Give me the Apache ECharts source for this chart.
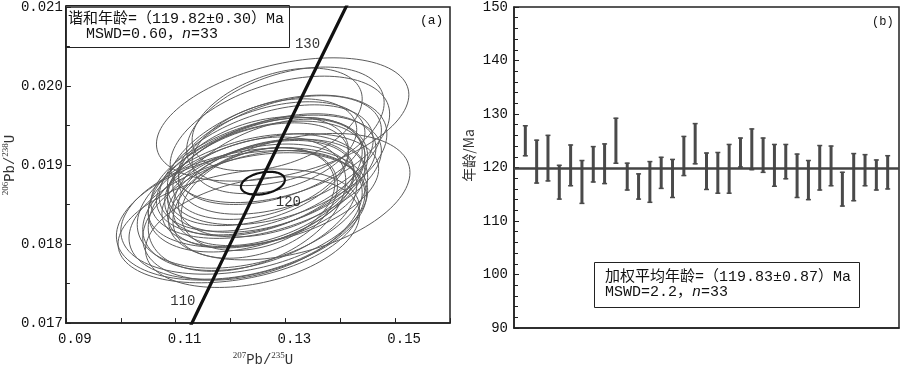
<!DOCTYPE html>
<html>
<head>
<meta charset="utf-8">
<script src="https://cdn.jsdelivr.net/npm/echarts@6/dist/echarts.min.js"></script>
<style>html,body{margin:0;padding:0;background:#fff;}#c{width:900px;height:372px;}</style>
</head>
<body>
<div id="c"></div>
<script>
// ---------- Panel (a): concordia diagram ----------
const concordiaAges = [108, 110, 115, 120, 125, 130, 135];
const concordiaX = [0.112226, 0.114419, 0.119921, 0.125449, 0.131004, 0.136588, 0.142199];
const concordiaY = [0.016894, 0.017210, 0.018000, 0.018789, 0.019580, 0.020371, 0.021163];
const concordiaLabelAges = [110, 120, 130];

// analysis ellipses: centre (207Pb/235U, 206Pb/238U), half-axes, error correlation
const ellipseCX  = [0.1295,0.1265,0.1285,0.1230,0.1260,0.1220,0.1250,0.1275,0.1285,0.1245,0.1215,0.1240,0.1255,0.1235,0.1290,0.1300,0.1260,0.1307,0.1250,0.1280,0.1290,0.1275,0.1265,0.1255,0.1240,0.1225,0.1270,0.1255,0.1240,0.1230,0.1265,0.1250,0.1260];
const ellipseCY  = [0.019577,0.018962,0.019065,0.018356,0.018852,0.018364,0.018884,0.018899,0.019577,0.018521,0.018230,0.018364,0.018631,0.018466,0.019128,0.019490,0.018679,0.018600,0.018750,0.019238,0.019325,0.019151,0.018852,0.018962,0.018545,0.018419,0.018781,0.018836,0.018151,0.018505,0.018710,0.018569,0.018647];
const ellipseSX  = [0.0230,0.0195,0.0200,0.0215,0.0180,0.0228,0.0165,0.0190,0.0155,0.0150,0.0220,0.0200,0.0170,0.0195,0.0185,0.0180,0.0210,0.0220,0.0200,0.0150,0.0200,0.0170,0.0210,0.0160,0.0210,0.0225,0.0175,0.0190,0.0195,0.0180,0.0160,0.0140,0.0185];
const ellipseSY  = [0.00078,0.00080,0.00082,0.00080,0.00075,0.00082,0.00065,0.00075,0.00065,0.00070,0.00072,0.00082,0.00068,0.00080,0.00075,0.00075,0.00072,0.00080,0.00085,0.00060,0.00080,0.00065,0.00078,0.00065,0.00085,0.00080,0.00080,0.00072,0.00070,0.00085,0.00062,0.00065,0.00068];
const ellipseRho = [0.40,0.45,0.40,0.35,0.42,0.32,0.40,0.42,0.40,0.32,0.32,0.35,0.38,0.35,0.42,0.40,0.38,0.38,0.42,0.35,0.40,0.40,0.42,0.35,0.35,0.32,0.42,0.40,0.32,0.35,0.35,0.30,0.38];
// concordia age ellipse
const meanEllipse = [0.1259, 0.01877, 0.0040, 0.000145, 0.3];

const xTickLabelsA = [0.09, 0.11, 0.13, 0.15];

// ---------- Panel (b): weighted mean ages ----------
const analysisNo = [1,2,3,4,5,6,7,8,9,10,11,12,13,14,15,16,17,18,19,20,21,22,23,24,25,26,27,28,29,30,31,32,33];
const ageHigh = [127.9,125.2,126.1,120.5,124.3,121.4,124.0,124.5,129.3,120.9,118.9,121.2,122.0,121.6,125.9,128.3,122.8,122.9,124.4,125.6,127.3,125.6,124.4,124.4,122.6,121.4,124.2,124.1,119.2,122.7,122.5,121.5,122.3];
const ageLow  = [122.1,117.0,117.4,114.0,116.5,113.2,117.2,116.9,120.7,115.7,114.0,113.4,116.0,114.3,118.4,120.6,115.8,115.1,115.1,120.0,119.5,119.0,116.4,117.8,114.3,113.9,115.7,116.5,112.7,113.7,116.5,115.7,115.9];
const weightedMean = 119.83;

const FONT = "'Liberation Mono', 'Noto Sans CJK SC', monospace";
const TXT = '#111';

function ellipseRender(color, width) {
  return function (params, api) {
    const cx = api.value(0), cy = api.value(1), sx = api.value(2), sy = api.value(3), r = api.value(4);
    const k = Math.sqrt(1 - r * r);
    const pts = [];
    for (let j = 0; j <= 120; j++) {
      const t = j / 120 * Math.PI * 2;
      pts.push(api.coord([cx + sx * Math.cos(t), cy + sy * (r * Math.cos(t) + k * Math.sin(t))]));
    }
    return { type: 'polyline', shape: { points: pts }, style: { fill: null, stroke: color, lineWidth: width } };
  };
}

const ellipseData = ellipseCX.map((c, i) => [c, ellipseCY[i], ellipseSX[i], ellipseSY[i], ellipseRho[i]]);
const concordiaData = concordiaX.map((x, i) => [x, concordiaY[i]]);
const labelOffsets = { 110: [-17, -5], 120: [28, 21], 130: [-14, -12] };
const concordiaLabelData = concordiaLabelAges.map(a => {
  const i = concordiaAges.indexOf(a);
  return { value: [concordiaX[i], concordiaY[i]], name: String(a), label: { offset: labelOffsets[a] } };
});
const barData = analysisNo.map((n, i) => [n, ageLow[i], ageHigh[i]]);

const richBox = {
  t: { fontFamily: FONT, fontSize: 15, lineHeight: 15, color: TXT, fontWeight: 'normal' },
  i: { fontFamily: FONT, fontSize: 15, lineHeight: 15, color: TXT, fontStyle: 'italic', fontWeight: 'normal' }
};

const chart = echarts.init(document.getElementById('c'), null, { renderer: 'canvas' });
const option = {
  backgroundColor: '#fff',
  animation: false,
  textStyle: { fontFamily: FONT, color: TXT },
  title: [
    {
      left: 65, top: 5,
      borderColor: '#222', borderWidth: 1, padding: [7, 6, 6, 3],
      text: '{t|谐和年龄=（119.82±0.30）Ma}\n{t|  MSWD=0.60，}{i|n}{t|=33}',
      textStyle: { fontWeight: 'normal', rich: richBox }
    },
    {
      left: 594, top: 262,
      borderColor: '#222', borderWidth: 1, padding: [8, 9, 8, 11],
      text: '{t|加权平均年龄=（119.83±0.87）Ma}\n{t|MSWD=2.2，}{i|n}{t|=33}',
      textStyle: { fontWeight: 'normal', rich: richBox }
    },
    { text: '(a)', left: 420, top: 14, padding: 0, textStyle: { fontFamily: FONT, fontSize: 13, fontWeight: 'normal', color: TXT } },
    { text: '(b)', left: 872, top: 16, padding: 0, textStyle: { fontFamily: FONT, fontSize: 12, fontWeight: 'normal', color: TXT } }
  ],
  grid: [
    { left: 63, right: 450, top: 5, bottom: 45, show: true, borderColor: '#222', borderWidth: 1.5, backgroundColor: 'transparent' },
    { left: 514, right: 1, top: 7, bottom: 44, show: true, borderColor: '#222', borderWidth: 1.5, backgroundColor: 'transparent' }
  ],
  xAxis: [
    {
      gridIndex: 0, type: 'value', min: 0.09, max: 0.16, interval: 0.01,
      axisLine: { show: true, onZero: false, lineStyle: { color: '#222', width: 1.5 } },
      axisTick: { show: true, inside: true, length: 5, lineStyle: { color: '#222' } },
      splitLine: { show: false },
      axisLabel: {
        margin: 9, fontFamily: FONT, fontSize: 14, color: TXT, padding: [0, 0, 0, 18],
        formatter: v => xTickLabelsA.some(t => Math.abs(t - v) < 1e-6) ? v.toFixed(2) : ''
      },
      name: '{s|207}{b|Pb/}{s|235}{b|U}', nameLocation: 'middle', nameGap: 24,
      nameTextStyle: { padding: [0, 0, 0, 10], rich: {
        s: { fontFamily: 'Liberation Serif', fontSize: 9, verticalAlign: 'top', color: '#333', lineHeight: 16 },
        b: { fontFamily: FONT, fontSize: 14, verticalAlign: 'bottom', color: '#333', lineHeight: 16 }
      } }
    },
    {
      gridIndex: 1, type: 'value', min: 0, max: 34,
      axisLine: { show: true, onZero: false, lineStyle: { color: '#222', width: 1.5 } },
      axisTick: { show: false }, axisLabel: { show: false }, splitLine: { show: false }
    }
  ],
  yAxis: [
    {
      gridIndex: 0, type: 'value', min: 0.017, max: 0.021, interval: 0.001,
      axisLine: { show: true, onZero: false, lineStyle: { color: '#222', width: 1.5 } },
      axisTick: { show: true, inside: true, length: 5, lineStyle: { color: '#222' } },
      minorTick: { show: true, splitNumber: 2, length: 4, lineStyle: { color: '#222' } },
      splitLine: { show: false },
      axisLabel: { margin: 3, fontFamily: FONT, fontSize: 14, color: TXT, formatter: v => v.toFixed(3) },
      name: '{s|206}{b|Pb/}{s|238}{b|U}', nameLocation: 'middle', nameGap: 46,
      nameTextStyle: { rich: {
        s: { fontFamily: 'Liberation Serif', fontSize: 9, verticalAlign: 'top', color: '#333', lineHeight: 16 },
        b: { fontFamily: FONT, fontSize: 14, verticalAlign: 'bottom', color: '#333', lineHeight: 16 }
      } }
    },
    {
      gridIndex: 1, type: 'value', min: 90, max: 150, interval: 10,
      axisLine: { show: true, onZero: false, lineStyle: { color: '#222', width: 1.5 } },
      axisTick: { show: true, inside: true, length: 5, lineStyle: { color: '#222' } },
      minorTick: { show: true, splitNumber: 5, length: 4, lineStyle: { color: '#222' } },
      splitLine: { show: false },
      axisLabel: { margin: 6, fontFamily: FONT, fontSize: 14, color: TXT },
      name: '年龄/Ma', nameLocation: 'middle', nameGap: 38,
      nameTextStyle: { fontFamily: "'Noto Sans CJK SC', 'Liberation Mono'", fontSize: 14, color: '#333', padding: [0, 0, 0, 24] }
    }
  ],
  series: [
    {
      type: 'custom', xAxisIndex: 0, yAxisIndex: 0, clip: true, silent: true,
      renderItem: ellipseRender('#5c5c5c', 1),
      encode: { x: 0, y: 1 },
      data: ellipseData, z: 2
    },
    {
      type: 'line', xAxisIndex: 0, yAxisIndex: 0, clip: true, silent: true,
      data: concordiaData, showSymbol: false, symbol: 'none',
      lineStyle: { color: '#111', width: 3.2 }, z: 3
    },
    {
      type: 'custom', xAxisIndex: 0, yAxisIndex: 0, clip: true, silent: true,
      renderItem: ellipseRender('#111', 2.2),
      encode: { x: 0, y: 1 },
      data: [meanEllipse], z: 4
    },
    {
      type: 'scatter', xAxisIndex: 0, yAxisIndex: 0, symbolSize: 0, silent: true,
      data: concordiaLabelData, z: 5,
      label: { show: true, position: 'inside', formatter: p => p.name, fontFamily: FONT, fontSize: 14, color: '#000', fontWeight: 'normal' }
    },
    {
      type: 'custom', xAxisIndex: 1, yAxisIndex: 1, silent: true,
      encode: { x: 0, y: [1, 2] },
      data: barData, z: 3,
      renderItem: function (params, api) {
        const x = api.value(0);
        const lo = api.coord([x, api.value(1)]);
        const hi = api.coord([x, api.value(2)]);
        const c = '#4a4a4a';
        return {
          type: 'group',
          children: [
            { type: 'line', shape: { x1: hi[0], y1: hi[1], x2: lo[0], y2: lo[1] }, style: { stroke: c, lineWidth: 3 } },
            { type: 'line', shape: { x1: hi[0] - 2.5, y1: hi[1] + 0.5, x2: hi[0] + 2.5, y2: hi[1] + 0.5 }, style: { stroke: c, lineWidth: 1.5 } },
            { type: 'line', shape: { x1: lo[0] - 2.5, y1: lo[1] - 0.5, x2: lo[0] + 2.5, y2: lo[1] - 0.5 }, style: { stroke: c, lineWidth: 1.5 } }
          ]
        };
      },
      markLine: {
        silent: true, symbol: 'none', label: { show: false },
        lineStyle: { color: '#444', width: 2.5, type: 'solid' },
        data: [{ yAxis: weightedMean }]
      }
    }
  ]
};
chart.setOption(option);
</script>
</body>
</html>
